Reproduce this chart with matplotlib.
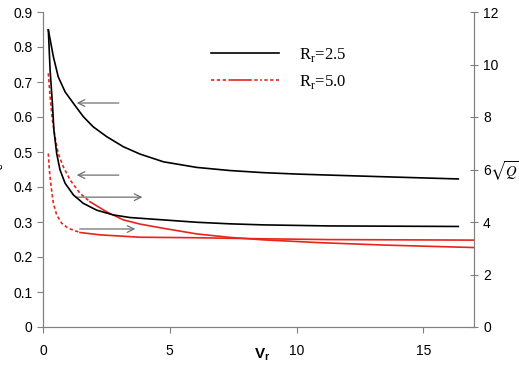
import matplotlib
matplotlib.use("Agg")
import matplotlib.pyplot as plt
from matplotlib.lines import Line2D

plt.rcParams['font.family'] = ['Liberation Sans', 'DejaVu Sans']

# Data
# Rr=2.5, left axis curve
x_b1 = [0.21, 0.41, 0.60, 0.87, 1.2, 1.59, 1.98, 2.51, 3.17, 3.83, 4.75, 6.06, 7.38, 8.69, 10.0, 11.3, 13.56, 16.38]
y_b1 = [0.849, 0.772, 0.715, 0.672, 0.639, 0.601, 0.572, 0.544, 0.515, 0.494, 0.472, 0.456, 0.447, 0.441, 0.437, 0.434, 0.429, 0.423]
# Rr=2.5, right axis curve (sqrt Q)
x_b2 = [0.21, 0.28, 0.37, 0.43, 0.54, 0.67, 0.87, 1.2, 1.59, 2.12, 2.77, 3.43, 4.75, 6.06, 7.38, 8.69, 11.3, 16.38]
y_b2 = [11.32, 9.79, 8.52, 7.51, 6.61, 5.99, 5.48, 5.03, 4.71, 4.45, 4.27, 4.17, 4.08, 3.99, 3.93, 3.89, 3.85, 3.83]
# Rr=5.0, left axis curve
x_r1 = [0.21, 0.28, 0.37, 0.47, 0.6, 0.8, 1.07, 1.46, 1.85, 2.51, 3.17, 3.83, 4.75, 6.06, 7.38, 8.69, 10.9, 13.5, 17.0]
y_r1 = [0.725, 0.658, 0.591, 0.544, 0.496, 0.458, 0.42, 0.382, 0.358, 0.329, 0.306, 0.294, 0.282, 0.266, 0.256, 0.249, 0.241, 0.234, 0.227]
# Rr=5.0, right axis curve (sqrt Q)
x_r2 = [0.21, 0.25, 0.32, 0.41, 0.54, 0.74, 1.0, 1.46, 2.25, 3.83, 6.06, 8.69, 11.3, 17.0]
y_r2 = [6.61, 5.99, 5.35, 4.71, 4.27, 3.95, 3.76, 3.6, 3.51, 3.42, 3.40, 3.36, 3.33, 3.31]

dot_end_r1 = 1.85
dot_end_r2 = 1.46

fig = plt.figure(figsize=(5.19, 3.65), dpi=100)
ax = fig.add_axes([43/519, 1-327/365, (474-43)/519, (327-12)/365])
ax2 = ax.twinx()

gray = '#808080'
for a in (ax, ax2):
    for s in a.spines.values():
        s.set_color(gray)
    a.tick_params(colors=gray, labelcolor='black', labelsize=10, length=4)
ax.spines['top'].set_visible(False)
ax2.spines['top'].set_visible(False)

ax.set_xlim(0, 17)
ax.set_ylim(0, 0.9)
ax2.set_ylim(0, 12)
ax.set_xticks([0, 5, 10, 15])
ax.set_yticks([i/10 for i in range(10)])
ax.set_yticklabels(['0'] + ['%.1f' % (i/10) for i in range(1, 10)])
ax2.set_yticks(range(0, 13, 2))
ax.tick_params(axis='x', direction='out', pad=8)
ax.tick_params(axis='y', direction='out')
ax2.tick_params(axis='y', direction='inout', length=6)

red = '#e8241c'
ax.plot(x_b1, y_b1, color='black', lw=1.2)
ax2.plot(x_b2, y_b2, color='black', lw=1.2)

def split(xs, ys, xe):
    k = max(i for i, x in enumerate(xs) if x <= xe)
    return xs[:k+1], ys[:k+1], xs[k:], ys[k:]

for axx, xs, ys, xe in ((ax, x_r1, y_r1, dot_end_r1), (ax2, x_r2, y_r2, dot_end_r2)):
    xa, ya, xb, yb = split(xs, ys, xe)
    axx.plot(xa, ya, color=red, lw=1.2, ls=(0, (2, 1.5)))
    axx.plot(xb, yb, color=red, lw=1.2)

# arrows
akw = dict(arrowstyle='->', color='#707070', lw=0.9, mutation_scale=12)
ax.annotate('', xy=(1.22, 0.64), xytext=(3.1, 0.64), arrowprops=akw)
ax.annotate('', xy=(1.22, 0.434), xytext=(3.1, 0.434), arrowprops=akw)
ax.annotate('', xy=(4.03, 0.371), xytext=(1.18, 0.371), arrowprops=akw)
ax.annotate('', xy=(3.75, 0.28), xytext=(1.34, 0.28), arrowprops=akw)

# legend
h1 = Line2D([], [], color='black', lw=1.2)
h2 = Line2D([], [], color=red, lw=1.2, dashes=[2, 1.5, 2, 1.5, 2, 1.5, 14, 1.5, 2, 1.5, 1, 1.5])
leg = ax.legend([h1, h2], ['R$_\\mathregular{r}$=2.5', 'R$_\\mathregular{r}$=5.0'],
                loc='upper left', bbox_to_anchor=(0.355, 0.94), frameon=False,
                handlelength=4.1, handletextpad=1.2, labelspacing=0.55,
                prop={'family': 'Liberation Serif', 'size': 12})

ax.set_xlabel('V$_\\mathregular{r}$', fontsize=11, fontweight='bold', labelpad=4)
ax.xaxis.set_label_coords((262-43)/(474-43), -0.06)

fig.text(490/519, 1-171/365, r'$\sqrt{Q}$', fontsize=10.5,
         va='center', ha='left', math_fontfamily='stix')
fig.text(0.0, 1-166/365, 'ε', fontsize=9, ha='center', va='center', rotation=90)

fig.savefig('out.png', dpi=100)
